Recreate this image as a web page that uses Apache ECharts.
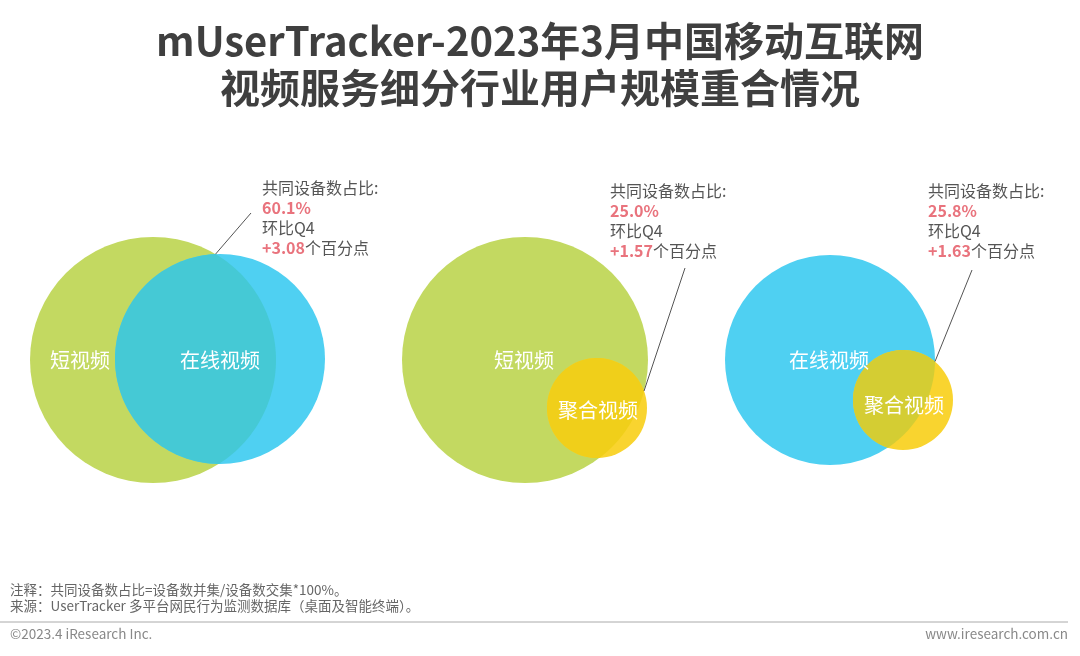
<!DOCTYPE html>
<html>
<head>
<meta charset="utf-8">
<script src="https://cdn.jsdelivr.net/npm/echarts@6/dist/echarts.min.js"></script>
<style>
  html, body { margin: 0; padding: 0; background: #fff; }
  #main { width: 1080px; height: 656px; }
</style>
</head>
<body>
<div id="main"></div>
<script>
// 数据
var setNames = ['短视频', '在线视频', '聚合视频'];
var setScale = [123, 105, 50];          // 相对用户规模（圆半径，坐标轴单位）
var pairSets = [[0, 1], [0, 2], [1, 2]];
var overlapShare = [60.1, 25.0, 25.8];  // 共同设备数占比 %
var qoqChange = [3.08, 1.57, 1.63];     // 环比Q4 百分点

// 布局（坐标轴单位）
var layout = [
    {a: [153, 360], b: [220, 359], labA: [80, 360],  labB: [220, 360], note: [262, 178], lead: [251, 213]},
    {a: [525, 360], b: [597, 408], labA: [524, 360], labB: [598, 410], note: [610, 181], lead: [685, 268]},
    {a: [830, 360], b: [903, 400], labA: [829, 360], labB: [904, 405], note: [928, 181], lead: [972, 270]}
];
var setColors = ['#C3D961', '#4FD0F2', '#F9D42F'];
var lensColors = ['#45C9D5', '#F0CF1A', '#D4CD33'];
var FONT = '"Noto Sans CJK SC", "Microsoft YaHei", sans-serif';

function renderItem(params, api) {
    var i = params.dataIndex;
    var L = layout[i];
    var sa = pairSets[i][0], sb = pairSets[i][1];
    var c1 = api.coord(L.a), c2 = api.coord(L.b);
    var r1 = api.size([setScale[sa], 0])[0];
    var r2 = api.size([setScale[sb], 0])[0];
    var dx = c2[0] - c1[0], dy = c2[1] - c1[1];
    var d = Math.sqrt(dx * dx + dy * dy);
    var a = (r1 * r1 - r2 * r2 + d * d) / (2 * d);
    var h = Math.sqrt(Math.max(r1 * r1 - a * a, 0));
    var ux = dx / d, uy = dy / d;
    var bx = c1[0] + a * ux, by = c1[1] + a * uy;
    var p1 = [bx - h * uy, by + h * ux], p2 = [bx + h * uy, by - h * ux];
    var top = p1[1] < p2[1] ? p1 : p2;

    // 交集区域
    var phi1 = Math.atan2(dy, dx), t1 = Math.acos(Math.max(-1, Math.min(1, a / r1)));
    var phi2 = Math.atan2(-dy, -dx), t2 = Math.acos(Math.max(-1, Math.min(1, (d - a) / r2)));
    var pts = [], k, n = 80, ang;
    for (k = 0; k <= n; k++) {
        ang = phi1 - t1 + 2 * t1 * k / n;
        pts.push([c1[0] + r1 * Math.cos(ang), c1[1] + r1 * Math.sin(ang)]);
    }
    for (k = 0; k <= n; k++) {
        ang = phi2 - t2 + 2 * t2 * k / n;
        pts.push([c2[0] + r2 * Math.cos(ang), c2[1] + r2 * Math.sin(ang)]);
    }

    var la = api.coord(L.labA), lb = api.coord(L.labB);
    var nt = api.coord(L.note), ld = api.coord(L.lead);
    var labelStyle = {fill: '#fff', fontSize: 20, fontFamily: FONT, align: 'center', verticalAlign: 'middle'};

    return {
        type: 'group',
        children: [
            {type: 'circle', shape: {cx: c1[0], cy: c1[1], r: r1}, style: {fill: setColors[sa]}},
            {type: 'circle', shape: {cx: c2[0], cy: c2[1], r: r2}, style: {fill: setColors[sb]}},
            {type: 'polygon', shape: {points: pts}, style: {fill: lensColors[i]}},
            {type: 'text', x: la[0], y: la[1], style: Object.assign({text: setNames[sa]}, labelStyle)},
            {type: 'text', x: lb[0], y: lb[1], style: Object.assign({text: setNames[sb]}, labelStyle)},
            {type: 'line', shape: {x1: ld[0], y1: ld[1], x2: top[0], y2: top[1]},
                style: {stroke: '#555', lineWidth: 1}},
            {type: 'text', x: nt[0], y: nt[1], style: {
                text: '{g|共同设备数占比:}\n{r|' + overlapShare[i].toFixed(1) + '%}\n{g|环比Q4}\n{r|+' +
                    qoqChange[i].toFixed(2) + '}{g|个百分点}',
                verticalAlign: 'top', align: 'left',
                rich: {
                    g: {fontSize: 16, lineHeight: 20, fill: '#555', fontFamily: FONT},
                    r: {fontSize: 16, lineHeight: 20, fill: '#E9737D', fontWeight: 'bold', fontFamily: FONT}
                }
            }}
        ]
    };
}

var option = {
    backgroundColor: '#fff',
    animation: false,
    title: {
        text: 'mUserTracker-2023年3月中国移动互联网\n视频服务细分行业用户规模重合情况',
        left: 'center',
        top: 12,
        textStyle: {fontSize: 40, fontWeight: 'bold', color: '#3f3f3f', lineHeight: 47, fontFamily: FONT}
    },
    grid: {left: 0, right: 0, top: 0, bottom: 0},
    xAxis: {type: 'value', min: 0, max: 1080, show: false},
    yAxis: {type: 'value', min: 0, max: 656, inverse: true, show: false},
    series: [{
        type: 'custom',
        renderItem: renderItem,
        clip: false,
        data: layout.map(function (l) { return l.a; })
    }],
    graphic: [
        {type: 'text', left: 10, top: 583, style: {text: '注释：共同设备数占比=设备数并集/设备数交集*100%。',
            fontSize: 13.5, fill: '#666', fontFamily: FONT}},
        {type: 'text', left: 10, top: 599, style: {text: '来源：UserTracker 多平台网民行为监测数据库（桌面及智能终端）。',
            fontSize: 13.5, fill: '#666', fontFamily: FONT}},
        {type: 'line', shape: {x1: 0, y1: 622, x2: 1068, y2: 622}, style: {stroke: '#aaa', lineWidth: 1}},
        {type: 'text', left: 10, top: 627, style: {text: '©2023.4 iResearch Inc.',
            fontSize: 13.5, fill: '#888', fontFamily: FONT}},
        {type: 'text', right: 12, top: 627, style: {text: 'www.iresearch.com.cn',
            fontSize: 13.5, fill: '#888', fontFamily: FONT}}
    ]
};

echarts.init(document.getElementById('main')).setOption(option);
</script>
</body>
</html>
